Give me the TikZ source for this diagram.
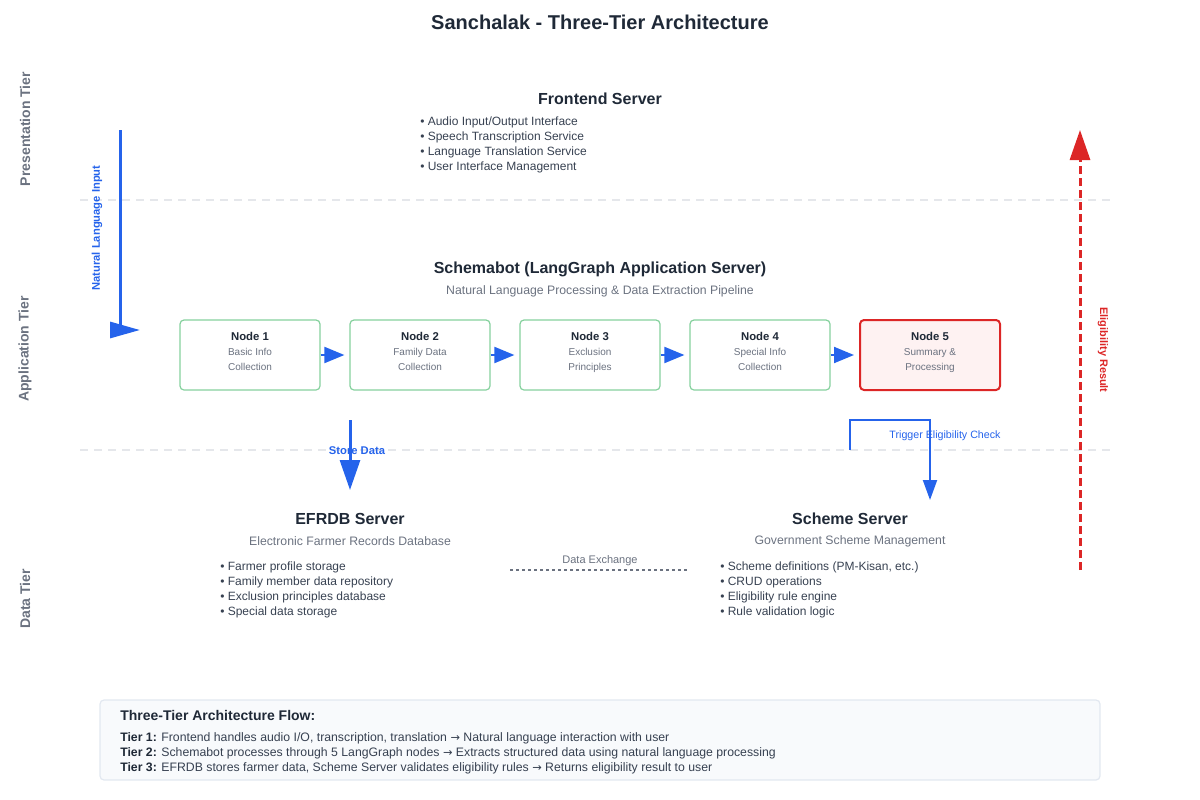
\documentclass[tikz,border=0pt]{standalone}
\usepackage{fontspec}
\setmainfont{Liberation Sans}
\newfontfamily\arrowfont{DejaVu Sans}
\usepackage{xcolor}
\usepackage{tikz}
\usetikzlibrary{arrows.meta}

\definecolor{ink}{HTML}{1F2937}
\definecolor{muted}{HTML}{6B7280}
\definecolor{body}{HTML}{374151}
\definecolor{flowblue}{HTML}{2563EB}
\definecolor{alertred}{HTML}{DC2626}
\definecolor{okgreen}{HTML}{86D19E}
\definecolor{rule}{HTML}{E5E7EB}
\definecolor{panel}{HTML}{F8FAFC}
\definecolor{panelline}{HTML}{E2E8F0}
\definecolor{redfill}{HTML}{FEF2F2}
\newcommand{\fsz}[2]{\fontsize{#1}{#2}\selectfont}
\newcommand{\toarrow}{{\arrowfont\fsz{8.5}{11.25}→}}
\newcommand{\stagename}[1]{{\fsz{8.5}{11.25}\bfseries\color{ink}#1}}
\newcommand{\lowpad}{\rule[-6pt]{0pt}{0pt}}

\begin{document}
\begin{tikzpicture}[x=0.75pt,y=-0.75pt,every node/.style={inner sep=0pt},
  tier/.style={rotate=90,font=\fsz{10.5}{12}\bfseries,text=muted},
  heading/.style={font=\fsz{12}{14}\bfseries,text=ink},
  sub/.style={font=\fsz{9.2}{11},text=muted},
  items/.style={anchor=north west,align=left,font=\fsz{9}{11.25},text=body},
  stage/.style={draw=okgreen,line width=0.9pt,rounded corners=3pt,fill=white,minimum width=105pt,minimum height=52.5pt,align=center,font=\fsz{7.5}{11.25},text=muted},
  flow/.style={flowblue,line width=1.5pt,-{Triangle[length=15pt,width=12pt]}},
  sep/.style={rule,line width=1.2pt,dash pattern=on 6pt off 4.5pt}]
  	\useasboundingbox (0,0) rectangle (1200,800);
  	\node[font=\fsz{15}{18}\bfseries,text=ink] (title) at (600,22) {Sanchalak - Three-Tier Architecture};
  	
  	% tiers
  	\node[tier] (t1) at (25,129) {Presentation Tier};
  	\node[tier] (t2) at (25,349) {Application Tier};
  	\node[tier] (t3) at (25,599) {Data Tier};
  	\draw[sep] (80,200) -- (1115,200);
  	\draw[sep] (80,450) -- (1115,450);
  	
  	% presentation
  	\node[heading] (fe) at (600,99) {Frontend Server};
  	\node[items] (felist) at (420,117) {• Audio Input/Output Interface\\• Speech Transcription Service\\• Language Translation Service\\• User Interface Management};
  	
  	% application
  	\node[heading] (sb) at (600,269) {Schemabot (LangGraph Application Server)};
  	\node[sub] (sbsub) at (600,291) {Natural Language Processing \& Data Extraction Pipeline};
  	\node[stage] (n1) at (250,355) {\stagename{Node 1}\\Basic Info\\Collection\lowpad};
  	\node[stage] (n2) at (420,355) {\stagename{Node 2}\\Family Data\\Collection\lowpad};
  	\node[stage] (n3) at (590,355) {\stagename{Node 3}\\Exclusion\\Principles\lowpad};
  	\node[stage] (n4) at (760,355) {\stagename{Node 4}\\Special Info\\Collection\lowpad};
  	\node[stage,draw=alertred,fill=redfill,line width=1.5pt] (n5) at (930,355) {\stagename{Node 5}\\Summary \&\\Processing\lowpad};
  	\foreach \a/\b in {n1/n2,n2/n3,n3/n4,n4/n5}
  		\draw[flow,shorten >=3.75pt] (\a) -- (\b);
  	
  	% data
  	\node[heading] (efrdb) at (350,519) {EFRDB Server};
  	\node[sub] (efrdbsub) at (350,541) {Electronic Farmer Records Database};
  	\node[items] (efrdblist) at (220,562) {• Farmer profile storage\\• Family member data repository\\• Exclusion principles database\\• Special data storage};
  	\node[heading] (scheme) at (850,519) {Scheme Server};
  	\node[sub] (schemesub) at (850,541) {Government Scheme Management};
  	\node[items] (schemelist) at (720,562) {• Scheme definitions (PM-Kisan, etc.)\\• CRUD operations\\• Eligibility rule engine\\• Rule validation logic};
  	
  	% connectors
  	\coordinate (nlin) at (120,130);
  	\coordinate (nlout) at (140,330);
  	\draw[flow,line width=2.25pt,-{Triangle[length=22.5pt,width=12pt]}] (nlin) |- (nlout);
  	\node[rotate=90,font=\fsz{8.4}{9}\bfseries,text=flowblue] (nllabel) at (97,228) {Natural Language Input};
  	
  	\coordinate (sdin) at (350,420);
  	\coordinate (sdout) at (350,490);
  	\draw[flow,line width=2.25pt,-{Triangle[length=22.5pt,width=15pt]}] (sdin) -- (sdout);
  	\node[font=\fsz{8.4}{9}\bfseries,text=flowblue] (sdlabel) at (357,451) {Store Data};
  	
  	\coordinate (trin) at (850,450);
  	\coordinate (trbend) at (930,420);
  	\coordinate (trout) at (930,500);
  	\draw[flow,-{Triangle[length=15pt,width=10.5pt]}] (trin) |- (trbend) -- (trout);
  	\node[font=\fsz{8}{9},text=flowblue] (trlabel) at (945,436) {Trigger Eligibility Check};
  	
  	\coordinate (dxa) at (510,570);
  	\coordinate (dxb) at (688,570);
  	\draw[muted,line width=1.1pt,dash pattern=on 2.25pt off 2.25pt] (dxa) -- (dxb);
  	\node[font=\fsz{8.25}{9},text=muted] (dxlabel) at (600,561) {Data Exchange};
  	
  	\coordinate (erin) at (1080,570);
  	\coordinate (erout) at (1080,130);
  	\draw[alertred,line width=2.25pt,dash pattern=on 6pt off 3pt,-{Triangle[length=22.5pt,width=15pt]}] (erin) -- (erout);
  	\node[rotate=-90,font=\fsz{8.2}{9}\bfseries,text=alertred] (erlabel) at (1103,350) {Eligibility Result};
  	
  	% summary
  	\node[draw=panelline,fill=panel,line width=0.9pt,rounded corners=3pt,minimum width=750pt,minimum height=60pt] (flowbox) at (600,740) {};
  	\node[anchor=west,font=\fsz{10.5}{12}\bfseries,text=ink] (flowtitle) at (120,715) {Three-Tier Architecture Flow:};
  	\node[items,font=\fsz{9.2}{11.25}] (flowtext) at (120,732) {{\color{ink}\textbf{Tier 1:}} Frontend handles audio I/O, transcription, translation \toarrow{} Natural language interaction with user\\{\color{ink}\textbf{Tier 2:}} Schemabot processes through 5 LangGraph nodes \toarrow{} Extracts structured data using natural language processing\\{\color{ink}\textbf{Tier 3:}} EFRDB stores farmer data, Scheme Server validates eligibility rules \toarrow{} Returns eligibility result to user};
	\end{tikzpicture}
\end{document}
